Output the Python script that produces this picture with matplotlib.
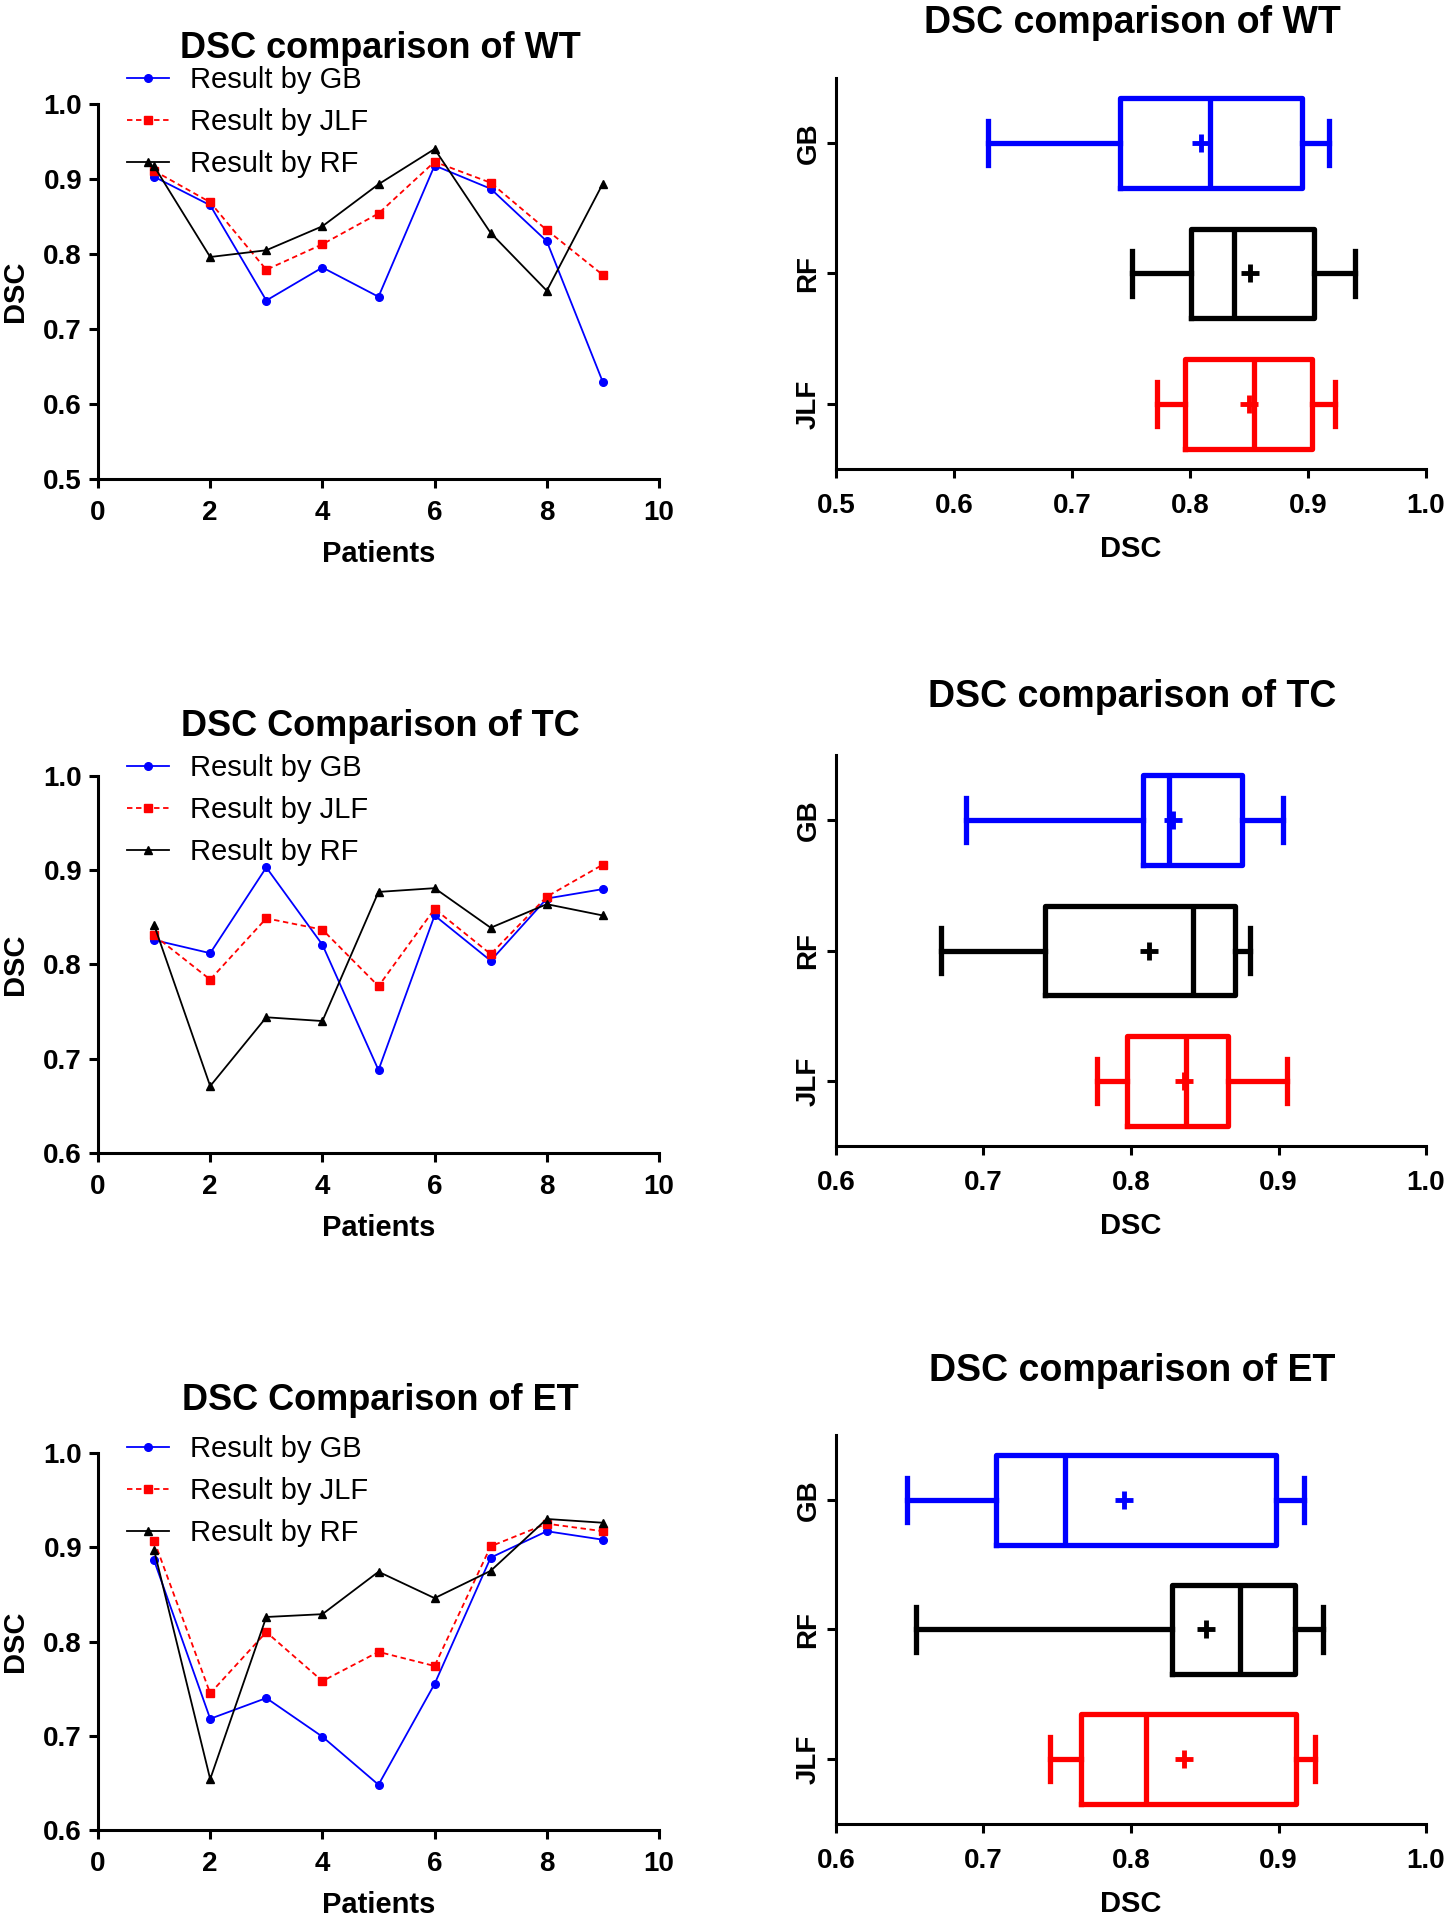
import numpy as np
import matplotlib
matplotlib.use("Agg")
import matplotlib.pyplot as plt

plt.rcParams['font.family'] = ['Liberation Sans', 'DejaVu Sans']

patients = [1, 2, 3, 4, 5, 6, 7, 8, 9]

# WT
wt_gb = [0.903, 0.865, 0.738, 0.782, 0.743, 0.918, 0.887, 0.817, 0.629]
wt_jlf = [0.911, 0.869, 0.779, 0.813, 0.854, 0.923, 0.895, 0.832, 0.772]
wt_rf = [0.917, 0.796, 0.805, 0.837, 0.893, 0.940, 0.828, 0.751, 0.894]

# TC
tc_gb = [0.826, 0.812, 0.903, 0.821, 0.688, 0.852, 0.804, 0.870, 0.880]
tc_jlf = [0.831, 0.784, 0.849, 0.837, 0.777, 0.859, 0.811, 0.872, 0.906]
tc_rf = [0.842, 0.671, 0.744, 0.740, 0.877, 0.881, 0.839, 0.864, 0.852]

# ET
et_gb = [0.886, 0.718, 0.740, 0.699, 0.648, 0.755, 0.889, 0.917, 0.908]
et_jlf = [0.907, 0.745, 0.810, 0.758, 0.789, 0.774, 0.901, 0.925, 0.917]
et_rf = [0.897, 0.654, 0.826, 0.829, 0.874, 0.846, 0.875, 0.930, 0.926]

line_titles = ['DSC comparison of WT', 'DSC Comparison of TC', 'DSC Comparison of ET']
box_titles = ['DSC comparison of WT', 'DSC comparison of TC', 'DSC comparison of ET']
box_labels = ['JLF', 'RF', 'GB']
ymins = [0.5, 0.6, 0.6]

W, H = 1452, 1920
fig = plt.figure(figsize=(W / 100, H / 100), dpi=100)


def frac(l, t, r, b):
    return [l / W, 1 - b / H, (r - l) / W, (b - t) / H]


line_pos = [frac(98, 104, 659, 479), frac(98, 776, 659, 1153), frac(98, 1453, 659, 1830)]
box_pos = [frac(836, 78, 1426, 469), frac(836, 755, 1426, 1146), frac(836, 1435, 1426, 1824)]
line_title_y = [48, 726, 1400]
box_title_y = [23, 697, 1371]
leg_anchor = [1.101, 1.058, 1.048]

data = [(wt_gb, wt_jlf, wt_rf), (tc_gb, tc_jlf, tc_rf), (et_gb, et_jlf, et_rf)]


def style_axes(ax):
    for s in ['top', 'right']:
        ax.spines[s].set_visible(False)
    for s in ['left', 'bottom']:
        ax.spines[s].set_linewidth(2.2)
    ax.tick_params(width=2.2, length=6.5, labelsize=20)
    for lab in ax.get_xticklabels() + ax.get_yticklabels():
        lab.set_fontweight('bold')


def stats(vals, label):
    v = np.array(vals)
    q1, med, q3 = np.percentile(v, [25, 50, 75], method='weibull')
    return dict(label=label, med=med, q1=q1, q3=q3, whislo=v.min(), whishi=v.max(),
                mean=v.mean(), fliers=[])


for i in range(3):
    gb, jlf, rf = data[i]

    # line chart
    ax = fig.add_axes(line_pos[i])
    ax.plot(patients, gb, color='#0000FF', marker='o', ms=5.5, lw=1.3, label='Result by GB')
    ax.plot(patients, jlf, color='#FF0000', marker='s', ms=5.5, lw=1.3, ls=(0, (3, 2)),
            label='Result by JLF')
    ax.plot(patients, rf, color='black', marker='^', ms=5.5, lw=1.3, label='Result by RF')
    ax.set_xlim(0, 10)
    ax.set_ylim(ymins[i], 1.0)
    ax.set_xticks([0, 2, 4, 6, 8, 10])
    ax.set_yticks(np.arange(ymins[i], 1.001, 0.1))
    ax.yaxis.set_major_formatter(matplotlib.ticker.FormatStrFormatter('%.1f'))
    style_axes(ax)
    ax.tick_params(axis='x', pad=8.8)
    ax.tick_params(axis='y', pad=5)
    ax.set_xlabel('Patients', fontsize=21, fontweight='bold', labelpad=10)
    ax.set_ylabel('DSC', fontsize=21, fontweight='bold', labelpad=10)
    ax.legend(loc='upper left', bbox_to_anchor=(0.052, leg_anchor[i]), frameon=False,
              fontsize=21, handlelength=1.45, handletextpad=0.7, labelspacing=0.48,
              borderpad=0, borderaxespad=0)
    fig.text(380 / W, 1 - line_title_y[i] / H, line_titles[i], ha='center', va='center',
             fontsize=26, fontweight='bold')

    # box plot
    bx = fig.add_axes(box_pos[i])
    colors = ['#FF0000', 'black', '#0000FF']
    for k, (vals, lab) in enumerate([(jlf, 'JLF'), (rf, 'RF'), (gb, 'GB')]):
        c = colors[k]
        bx.bxp([stats(vals, lab)], positions=[k], widths=0.69, capwidths=0.34,
               orientation='horizontal', showmeans=True, showfliers=False,
               boxprops=dict(color=c, lw=3.8), whiskerprops=dict(color=c, lw=3.8),
               capprops=dict(color=c, lw=3.8), medianprops=dict(color=c, lw=3.8),
               meanprops=dict(marker='+', markeredgecolor=c, markersize=13, mew=3.5))
    bx.set_ylim(-0.5, 2.5)
    bx.set_xlim(ymins[i], 1.0)
    bx.set_xticks(np.arange(ymins[i], 1.001, 0.1))
    bx.xaxis.set_major_formatter(matplotlib.ticker.FormatStrFormatter('%.1f'))
    bx.set_yticks([0, 1, 2])
    bx.set_yticklabels(box_labels, rotation=90, va='center')
    style_axes(bx)
    bx.tick_params(axis='x', pad=11)
    bx.tick_params(axis='y', pad=4)
    bx.set_xlabel('DSC', fontsize=21, fontweight='bold', labelpad=11.5)
    fig.text(1132 / W, 1 - box_title_y[i] / H, box_titles[i], ha='center', va='center',
             fontsize=27, fontweight='bold')

fig.savefig('out.png', dpi=100)
